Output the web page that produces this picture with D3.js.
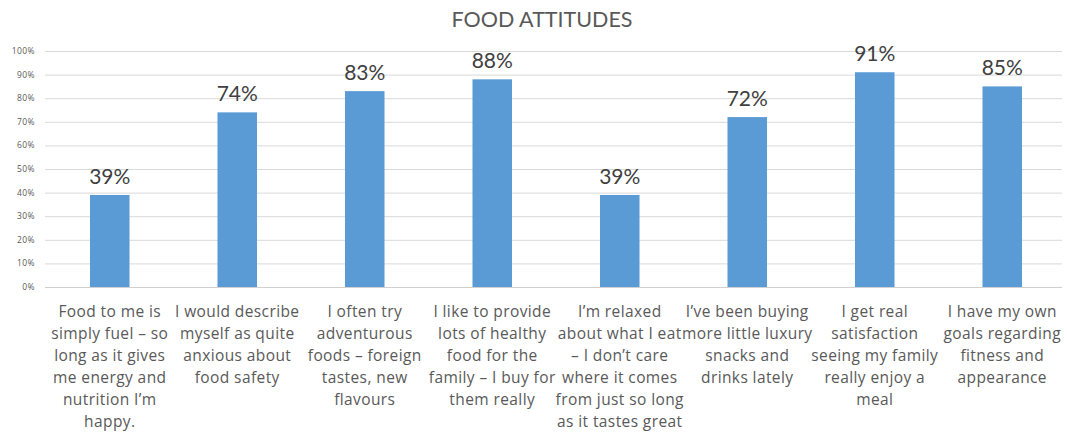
<!DOCTYPE html>
<html><head><meta charset="utf-8">
<script src="https://cdn.jsdelivr.net/npm/d3@7"></script>
<style>body{margin:0;background:#fff;} svg{display:block;}</style>
</head><body>
<svg id="c" width="1067" height="435"></svg>
<script>
const title = "FOOD ATTITUDES";
const categories = [
  "Food to me is|simply fuel – so|long as it gives|me energy and|nutrition I’m|happy.",
  "I would describe|myself as quite|anxious about|food safety",
  "I often try|adventurous|foods – foreign|tastes, new|flavours",
  "I like to provide|lots of healthy|food for the|family – I buy for|them really",
  "I’m relaxed|about what I eat|– I don’t care|where it comes|from  just so long|as it tastes great",
  "I’ve been buying|more little luxury|snacks and|drinks lately",
  "I get real|satisfaction|seeing my family|really enjoy a|meal",
  "I have my own|goals regarding|fitness and|appearance"
];
const values = [39, 74, 83, 88, 39, 72, 91, 85];
const yTicks = [0,10,20,30,40,50,60,70,80,90,100];

const svg = d3.select("#c");
const pL = 46, pR = 1066, pT = 51, pB = 287;
const x = d3.scaleBand().domain(d3.range(categories.length)).range([pL, pR]).paddingInner(0.69).paddingOuter(0.345);
const y = d3.scaleLinear().domain([0,100]).range([pB, pT]);

svg.append("text").attr("x", 542).attr("y", 27).attr("text-anchor","middle")
  .style("font-family","Lato, 'Open Sans', sans-serif").style("font-size","21.5px").style("fill","#595959")
  .text(title);

const g = svg.append("g");
g.selectAll("line.grid").data(yTicks).join("line").attr("class","grid")
  .attr("x1", pL-1).attr("x2", pR-4).attr("y1", d=>y(d)+0.5).attr("y2", d=>y(d)+0.5)
  .attr("stroke", d=> d===0 ? "#d0d0d0" : "#d9d9d9").attr("stroke-width",1);

g.selectAll("text.yt").data(yTicks).join("text").attr("class","yt")
  .attr("x", 35).attr("y", d=>y(d)+3).attr("text-anchor","end")
  .style("font-family","'Open Sans', sans-serif").style("font-size","8.5px")
  .style("letter-spacing","0.4px").style("fill","#595959")
  .text(d=>d+"%");

g.selectAll("rect.bar").data(values).join("rect").attr("class","bar")
  .attr("x",(d,i)=>x(i)).attr("width",x.bandwidth())
  .attr("y",d=>y(d)).attr("height",d=>y(0)-y(d)).attr("fill","#5B9BD5");

g.selectAll("text.val").data(values).join("text").attr("class","val")
  .attr("x",(d,i)=>x(i)+x.bandwidth()/2).attr("y",d=>y(d)-11).attr("text-anchor","middle")
  .style("font-family","Lato, sans-serif").style("font-size","21px").style("fill","#404040")
  .text(d=>d+"%");

const lab = g.selectAll("text.cat").data(categories).join("text").attr("class","cat")
  .attr("text-anchor","middle")
  .style("font-family","'Open Sans', sans-serif").style("font-size","15.5px")
  .style("letter-spacing","0.4px").style("fill","#595959");
lab.each(function(d,i){
  const t = d3.select(this);
  d.split("|").forEach((line,j)=>{
    t.append("tspan").attr("x", x(i)+x.bandwidth()/2).attr("y", 317 + j*22).text(line);
  });
});
</script>
</body></html>
